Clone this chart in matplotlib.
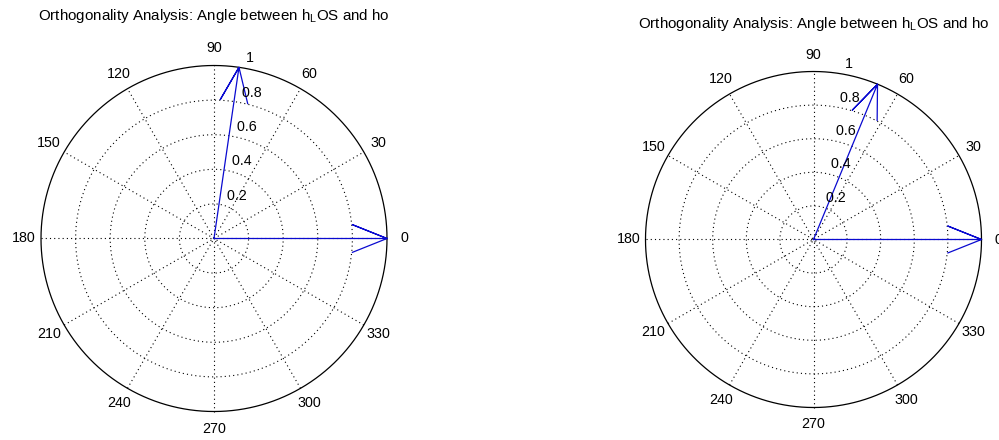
import numpy as np
import matplotlib.pyplot as plt

plt.rcParams['font.family'] = 'Liberation Sans'
plt.rcParams['font.size'] = 10
plt.rcParams['mathtext.fontset'] = 'custom'
plt.rcParams['mathtext.rm'] = 'Liberation Sans'

title = r'Orthogonality Analysis: Angle between h$_\mathregular{L}$OS and ho'

# compass vectors for each panel: direction (deg) and length
left_angles = [81.7, 0.0]
left_mags = [1.0, 1.0]
right_angles = [67.6, 0.0]
right_mags = [1.0, 1.0]

r_ticks = [0.2, 0.4, 0.6, 0.8, 1.0]
r_labels = ['0.2', '0.4', '0.6', '0.8', '1']
theta_ticks = [0, 30, 60, 90, 120, 150, 180, 210, 240, 270, 300, 330]

DOT = (0, (1, 2.8))


def compass(ax, angles, mags):
    # polar grid, the way matlab's polar() draws it
    t = np.linspace(0, 2 * np.pi, 721)
    for r in r_ticks[:-1]:
        ax.plot(r * np.cos(t), r * np.sin(t), color='k', ls=DOT, lw=0.8)
    ax.plot(np.cos(t), np.sin(t), color='k', lw=0.9)
    for th in theta_ticks[:6]:
        c, s = np.cos(np.deg2rad(th)), np.sin(np.deg2rad(th))
        ax.plot([-c, c], [-s, s], color='k', ls=DOT, lw=0.8)
    for th in theta_ticks:
        c, s = np.cos(np.deg2rad(th)), np.sin(np.deg2rad(th))
        ax.text(1.1 * c, 1.1 * s, str(th), ha='center', va='center',
                fontsize=10.3)
    c82, s82 = np.cos(np.deg2rad(82)), np.sin(np.deg2rad(82))
    for r, lab in zip(r_ticks, r_labels):
        ax.text((r + 0.01) * c82, (r + 0.01) * s82, '  ' + lab,
                ha='left', va='bottom', fontsize=10.3)

    # arrows (shaft plus two barbs at 0.8)
    shape = np.array([0, 1, .8, 1, .8]) + 1j * np.array([0, 0, .08, 0, -.08])
    for a, m in zip(angles, mags):
        p = shape * m * np.exp(1j * np.deg2rad(a))
        ax.plot(p.real, p.imag, color='#0a0ad0', lw=0.9)

    ax.text(0, 1.285, title, ha='center', va='center', fontsize=10.9)
    ax.set_xlim(-1.2, 1.2)
    ax.set_ylim(-1.2, 1.2)
    ax.axis('off')


W, H = 999, 440
fig = plt.figure(figsize=(W / 100, H / 100), dpi=100)


def add_panel(cx, cy, R):
    half = 1.2 * R
    return fig.add_axes([(cx - half) / W, (H - cy - half) / H,
                         2 * half / W, 2 * half / H])


ax1 = add_panel(214, 238.5, 173)
compass(ax1, left_angles, left_mags)

ax2 = add_panel(813.5, 239.5, 168)
compass(ax2, right_angles, right_mags)

fig.savefig('out.png', dpi=100, facecolor='white')
